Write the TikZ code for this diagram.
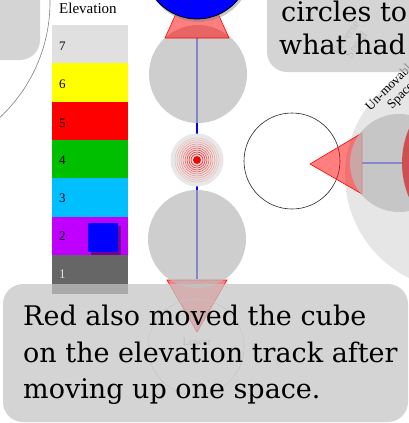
\documentclass[tikz,border=0pt]{standalone}
\usepackage{fontspec}
\setmainfont{DejaVu Serif}
\newfontfamily\smallserif{Liberation Serif}
\usetikzlibrary{shadows}
\definecolor{boxgray}{RGB}{196,196,196}
\definecolor{spacegray}{RGB}{187,187,187}
\definecolor{farlight}{RGB}{230,230,230}
\definecolor{lev7}{RGB}{224,224,224}
\definecolor{lev6}{RGB}{255,255,0}
\definecolor{lev5}{RGB}{255,0,0}
\definecolor{lev4}{RGB}{0,190,0}
\definecolor{lev3}{RGB}{0,191,255}
\definecolor{lev2}{RGB}{191,0,255}
\definecolor{lev1}{RGB}{102,102,102}
\definecolor{redpiece}{RGB}{205,80,80}
\definecolor{trackblue}{RGB}{0,0,255}
\tikzset{
  spacedisc/.style={circle, fill=spacegray, fill opacity=0.72, draw=none, minimum size=98pt, inner sep=0pt},
  redpointer/.style={fill=red, fill opacity=0.5, draw=red, line width=0.6pt},
  bigbox/.style={fill=boxgray, fill opacity=0.72, rounded corners=20pt},
  blabel/.style={font=\smallserif\fontsize{13}{13}\selectfont, anchor=west, inner sep=0pt},
  msg/.style={font=\fontsize{27}{27}\selectfont, anchor=base west, inner sep=0pt},
  faint/.style={text=gray!60, font=\smallserif\fontsize{12}{13}\selectfont, align=center, inner sep=0pt},
  trackline/.style={draw=trackblue, line width=1.4pt}
}
\begin{document}
\begin{tikzpicture}[x=1pt,y=-1pt]
\useasboundingbox (0,0) rectangle (409,423);
\clip (0,0) rectangle (409,423);

% large light space at right
\fill[farlight] (460,175) circle (115);
\node[font=\smallserif\fontsize{13}{14}\selectfont, rotate=45, align=center, inner sep=0pt] (unmov) at (396,91) {Un-movable\\Space};

% arc at top left
\draw[gray, line width=0.6pt] (-108,2) circle (158);

% top-left box
\fill[bigbox] (-30,-30) rectangle (40,60);

% elevation track
\node[font=\smallserif\fontsize{15}{15}\selectfont, anchor=base west, inner sep=0pt] (elev) at (59,13) {Elevation};
\fill[lev7] (52,25) rectangle (128,63);
\fill[lev6] (52,63) rectangle (128,102);
\fill[lev5] (52,102) rectangle (128,140);
\fill[lev4] (52,140) rectangle (128,178);
\fill[lev3] (52,178) rectangle (128,217);
\fill[lev2] (52,217) rectangle (128,255);
\fill[lev1] (52,255) rectangle (128,294);
\node[blabel] (l7) at (59,46) {7};
\node[blabel] (l6) at (59,84) {6};
\node[blabel] (l5) at (59,123) {5};
\node[blabel] (l4) at (59,160) {4};
\node[blabel] (l3) at (59,198) {3};
\node[blabel] (l2) at (59,236) {2};
\node[blabel, text=gray!25] (l1) at (59,274) {1};
\node[fill=blue, minimum width=30pt, minimum height=29pt, inner sep=0pt,
      drop shadow={shadow xshift=3pt, shadow yshift=-3pt, opacity=0.4, fill=black}] (cube) at (103,237.5) {};

% vertical track line
\coordinate (ttop) at (197,38);
\coordinate (tbot) at (197,279);
\draw[trackline] (ttop) -- (tbot);

% target space
\node[circle, fill=gray!18, minimum size=53pt, inner sep=0pt] (target) at (197,160) {};
\foreach \r/\o in {22/0.15,20/0.2,18/0.28,16/0.36,14/0.45,12/0.55,10/0.65,8/0.75,6/0.85}
  \draw[red, draw opacity=\o, line width=0.7pt] (target.center) circle (\r);
\fill[red] (target.center) circle (4);

% black outlined space
\node[circle, draw=black!85, line width=0.6pt, minimum size=96pt, inner sep=0pt] (empty) at (292,161) {};

% right side pointer and spaces
\coordinate (rapex) at (310,164);
\draw[redpointer] (rapex) -- (362,133) -- (362,194) -- cycle;
\coordinate (hl) at (362,163);
\coordinate (hr) at (402,163);
\draw[trackline] (hl) -- (hr);
\node[spacedisc] (rightspace) at (399,163) {};
\fill[redpiece] (490,163) circle (88);

% bottom pointer and lower space
\draw[redpointer] (197,332) -- (167,280) -- (227,280) -- cycle;
\node[spacedisc] (space2) at (197,239) {};
\node[spacedisc] (space1) at (198,74) {};

% top pointer and blue piece
\draw[redpointer] (197,-33) -- (165,38) -- (229,38) -- cycle;
\node[circle, fill=blue, draw=black, line width=0.8pt, minimum size=106pt, inner sep=0pt,
      drop shadow={shadow xshift=1.5pt, shadow yshift=-3pt, opacity=0.45}] (bluepiece) at (197,-34) {};

% faint hidden texts/spaces
\node[faint, rotate=55] (rev) at (352,42) {Reverse\\Speed};
\draw[gray!45, line width=0.5pt] (196,347) circle (48);
\node[faint, font=\smallserif\fontsize{11}{11}\selectfont] (lower) at (197,342) {Lower};

% top-right message box
\fill[bigbox] (267,-30) rectangle (440,72);
\node[msg] (m1) at (281,21) {circles to};
\node[msg] (m2) at (279,54) {what had};

% bottom message box
\fill[bigbox] (3,284) rectangle (408,422);
\node[msg] (b1) at (23,325) {Red also moved the cube};
\node[msg] (b2) at (23,362) {on the elevation track after};
\node[msg] (b3) at (23,398) {moving up one space.};
\end{tikzpicture}
\end{document}
